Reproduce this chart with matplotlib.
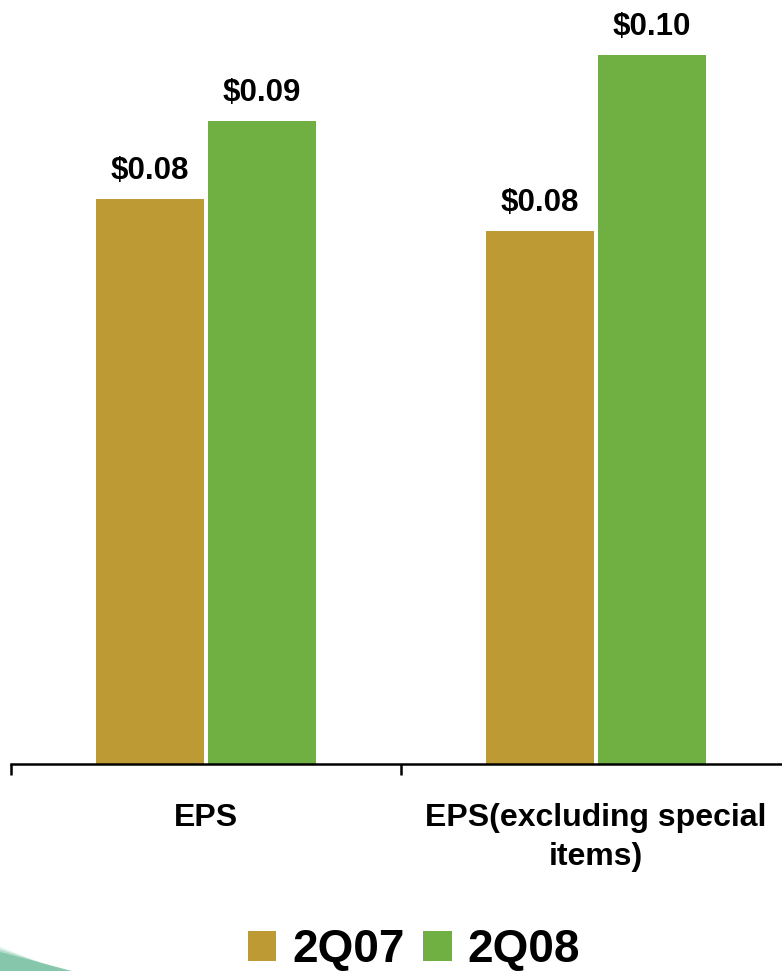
import matplotlib
matplotlib.use("Agg")
import matplotlib.pyplot as plt
from matplotlib.patches import Polygon, Patch

plt.rcParams['font.family'] = ['Liberation Sans', 'DejaVu Sans']
plt.rcParams['font.weight'] = 'bold'

categories = ["EPS", "EPS(excluding special\nitems)"]
series_names = ["2Q07", "2Q08"]
values_2q07 = [0.0797, 0.0752]
values_2q08 = [0.0907, 0.1000]
colors = ["#BE9A34", "#70B042"]

W, H = 782, 971
fig = plt.figure(figsize=(W / 100, H / 100), dpi=100)
fig.patch.set_facecolor("white")

# plot area: baseline at y=764px, category slot 390px wide starting at x=11
ax = fig.add_axes([11 / W, 1 - 764 / H, 780 / W, 764 / H])
ax.set_xlim(-0.5, 1.5)
ax.set_ylim(0, 0.1 * 764 / 709)

bar_w = 108 / 390
offset = 56 / 390
x = list(range(len(categories)))
for i, (vals, col) in enumerate(zip([values_2q07, values_2q08], colors)):
    xs = [p + (2 * i - 1) * offset for p in x]
    bars = ax.bar(xs, vals, width=bar_w, color=col, edgecolor="none")
    for b, v in zip(bars, vals):
        ax.annotate(f"${v:.2f}", (b.get_x() + b.get_width() / 2, v),
                    xytext=(0, 9), textcoords="offset points",
                    ha="center", va="bottom", fontsize=22.5, fontweight="bold")

for s in ["top", "right", "left"]:
    ax.spines[s].set_visible(False)
ax.spines["bottom"].set_linewidth(1.8)
ax.set_yticks([])
ax.set_xticks([-0.5, 0.5, 1.5])
ax.set_xticklabels([])
ax.tick_params(axis="x", which="major", length=8, width=1.8, color="black")
ax.set_xticks(x, minor=True)
ax.set_xticklabels(categories, minor=True, fontsize=23, fontweight="bold",
                   linespacing=1.4)
ax.tick_params(axis="x", which="minor", length=0, pad=28)

handles = [Patch(facecolor=c, edgecolor="none") for c in colors]
fig.legend(handles, series_names, loc="center", ncol=2,
           bbox_to_anchor=(414 / W, 1 - 950 / H), frameon=False,
           prop={"size": 33, "weight": "bold"},
           handlelength=0.62, handleheight=0.62, handletextpad=0.35,
           columnspacing=0.4, borderaxespad=0, borderpad=0)

# decorative swoosh in the lower-left corner
for k, a in enumerate([0.25, 0.45, 0.85]):
    d = (2 - k) * 2.5
    pts = [(0, H - 952 + d), (72 - d * 2, 0), (0, 0)]
    fig.patches.append(Polygon([(px / W, py / H) for px, py in pts],
                               closed=True, transform=fig.transFigure,
                               facecolor="#7FC3A5", edgecolor="none", alpha=a))

fig.savefig("out.png", dpi=100)
